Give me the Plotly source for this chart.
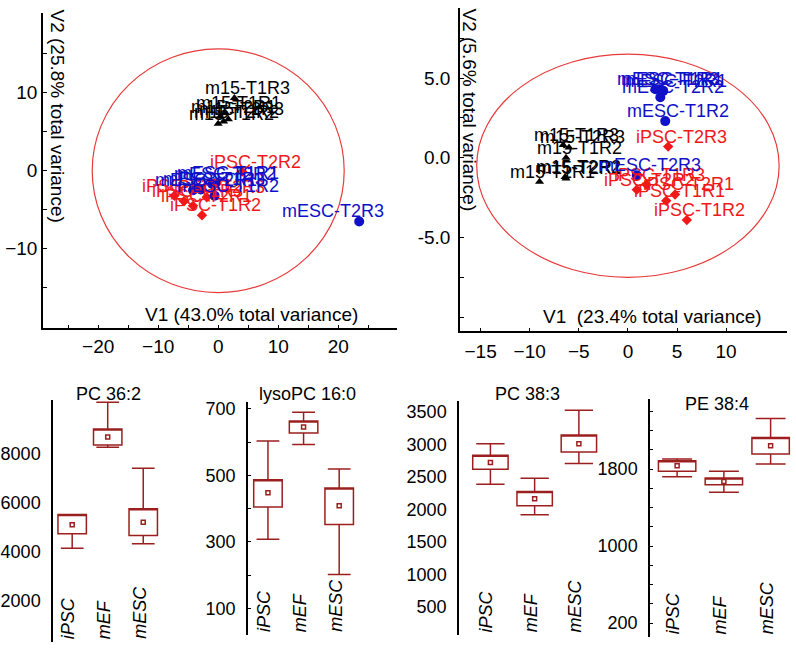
import plotly.graph_objects as go

W, H = 796, 649
FONT = "Liberation Sans, Arial, sans-serif"
RED = "#f01818"
BLUE = "#1010c8"
BLACK = "#000000"
BOXC = "#9b1f1f"

# ---------------- PCA 1 (left) ----------------
pca1_m15_names = ["m15-T1R3", "m15-T1R1", "m15-T2R1", "m15-T2R2", "m15-T1R2", "m15-T2R3"]
pca1_m15_x = [2.7, 1.2, 0.3, 0.9, 0.0, 1.7]
pca1_m15_y = [9.3, 7.4, 6.9, 6.3, 6.0, 6.6]

pca1_ipsc_names = ["iPSC-T1R1", "iPSC-T1R3", "iPSC-T2R1", "iPSC-T1R2", "iPSC-T2R3", "iPSC-T2R2"]
pca1_ipsc_x = [-7.3, -5.7, -4.2, -2.7, -1.9, 4.0]
pca1_ipsc_y = [-3.2, -3.9, -4.5, -5.7, -3.4, -0.1]

pca1_mesc_names = ["mESC-T2R1", "mESC-T1R3", "mESC-T2R2", "mESC-T1R1", "mESC-T1R2", "mESC-T2R3"]
pca1_mesc_x = [-4.2, -2.9, -1.0, -0.5, -0.6, 23.5]
pca1_mesc_y = [-2.5, -2.4, -1.7, -1.6, -3.2, -6.5]

pca1_xlabel = "V1 (43.0% total variance)"
pca1_ylabel = "V2 (25.8% total variance)"
pca1_xticks = [-20, -10, 0, 10, 20]
pca1_yticks = [-10, 0, 10]
pca1_ellipse = dict(cx=0.0, cy=0.0, rx=21.0, ry=15.6)

# ---------------- PCA 2 (right) ----------------
pca2_m15_names = ["m15-T1R3", "m15-T2R3", "m15-T1R2", "m15-T2R1", "m15-T1R1", "m15-T2R2"]
pca2_m15_x = [-6.6, -6.0, -6.3, -6.3, -9.0, -6.4]
pca2_m15_y = [0.8, 0.65, 0.0, -1.3, -1.5, -1.2]

pca2_ipsc_names = ["iPSC-T2R2", "iPSC-T1R3", "iPSC-T1R1", "iPSC-T2R1", "iPSC-T1R2", "iPSC-T2R3"]
pca2_ipsc_x = [0.9, 1.9, 3.9, 4.8, 6.0, 4.1]
pca2_ipsc_y = [-2.0, -1.7, -2.7, -2.3, -3.9, 0.7]

pca2_mesc_names = ["mESC-T1R3", "mESC-T2R1", "mESC-T1R1", "mESC-T2R2", "mESC-T1R2", "mESC-T2R3"]
pca2_mesc_x = [2.8, 3.6, 3.2, 3.3, 3.8, 0.9]
pca2_mesc_y = [4.3, 4.2, 4.3, 3.8, 2.3, -1.1]

pca2_xlabel = "V1  (23.4% total variance)"
pca2_ylabel = "V2 (5.6% total variance)"
pca2_xticks = [-15, -10, -5, 0, 5, 10]
pca2_yticks = [-5.0, 0.0, 5.0]
pca2_ellipse = dict(cx=0.0, cy=-0.5, rx=15.4, ry=7.0)

# ---------------- Box plots ----------------
groups = ["iPSC", "mEF", "mESC"]

box_titles = ["PC 36:2", "lysoPC 16:0", "PC 38:3", "PE 38:4"]
box_mean = [[5097, 8695, 5206], [448, 645, 409], [2723, 2166, 3014], [1835, 1672, 2042]]
box_q1 = [[4728, 8368, 4661], [405, 627, 352], [2621, 2058, 2887], [1776, 1638, 1956]]
box_q3 = [[5519, 9022, 5751], [487, 663, 462], [2835, 2278, 3147], [1886, 1707, 2128]]
box_low = [[4143, 8273, 4320], [308, 593, 202], [2391, 1920, 2708], [1720, 1558, 1852]]
box_high = [[5519, 10113, 7414], [603, 690, 519], [3014, 2483, 3531], [1904, 1776, 2325]]
box_yticks = [[2000, 4000, 6000, 8000], [100, 300, 500, 700],
              [500, 1000, 1500, 2000, 2500, 3000, 3500], [200, 1000, 1800]]
box_minor = [None, [200, 400, 600], None,
             [400, 600, 800, 1200, 1400, 1600, 2000, 2200, 2400]]

# ---------------- layout geometry (pixels) ----------------
def fx(p):
    return p / W

def fy(p):
    return 1 - p / H

fig = go.Figure()

scatter_panels = [
    dict(ax="", m15=(pca1_m15_names, pca1_m15_x, pca1_m15_y),
         ipsc=(pca1_ipsc_names, pca1_ipsc_x, pca1_ipsc_y),
         mesc=(pca1_mesc_names, pca1_mesc_x, pca1_mesc_y),
         ell=pca1_ellipse),
    dict(ax="2", m15=(pca2_m15_names, pca2_m15_x, pca2_m15_y),
         ipsc=(pca2_ipsc_names, pca2_ipsc_x, pca2_ipsc_y),
         mesc=(pca2_mesc_names, pca2_mesc_x, pca2_mesc_y),
         ell=pca2_ellipse),
]

annotations = []
shapes = []
label_shift = {("", "mESC-T2R3"): -26}

for p in scatter_panels:
    xa, ya = "x" + p["ax"], "y" + p["ax"]
    e = p["ell"]
    shapes.append(dict(type="circle", xref=xa, yref=ya,
                       x0=e["cx"] - e["rx"], x1=e["cx"] + e["rx"],
                       y0=e["cy"] - e["ry"], y1=e["cy"] + e["ry"],
                       line=dict(color="#e83a3a", width=1.2), layer="below"))
    for key, color, sym, size in [("m15", BLACK, "triangle-up", 8),
                                  ("ipsc", RED, "diamond", 8),
                                  ("mesc", BLUE, "circle", 10)]:
        names, xs, ys = p[key]
        fig.add_trace(go.Scatter(x=xs, y=ys, mode="markers", xaxis=xa, yaxis=ya,
                                 marker=dict(symbol=sym, size=size, color=color,
                                             line=dict(width=0)),
                                 hoverinfo="skip"))
        for n, xv, yv in zip(names, xs, ys):
            annotations.append(dict(x=xv, y=yv, xref=xa, yref=ya, text=n,
                                    showarrow=False, xanchor="center", yanchor="middle",
                                    xshift=label_shift.get((p["ax"], n), 13), yshift=10,
                                    font=dict(family=FONT, size=18, color=color)))

for i in range(4):
    n = str(i + 3)
    xa, ya = "x" + n, "y" + n
    fig.add_trace(go.Box(x=[0, 1, 2], q1=box_q1[i], median=box_q3[i], q3=box_q3[i],
                         lowerfence=box_low[i], upperfence=box_high[i],
                         xaxis=xa, yaxis=ya, width=0.8, whiskerwidth=0.8,
                         line=dict(color=BOXC, width=1.5),
                         fillcolor="rgba(0,0,0,0)", boxpoints=False, hoverinfo="skip"))
    fig.add_trace(go.Scatter(x=[0, 1, 2], y=box_mean[i], mode="markers",
                             xaxis=xa, yaxis=ya,
                             marker=dict(symbol="square-open", size=4, color=BOXC,
                                         line=dict(width=1.5, color=BOXC)),
                             hoverinfo="skip"))
    for j, g in enumerate(groups):
        annotations.append(dict(x=j, y=0, xref=xa, yref=ya + " domain", text=g,
                                showarrow=False, textangle=-90, xanchor="center",
                                yanchor="bottom", xshift=-4, yshift=1,
                                font=dict(family=FONT, size=18, color=BLACK, style="italic")))

dom = {
    "": dict(x=(43, 397), y=(10, 327), xr=(-29.2, 29.8), yr=(-20.2, 20.2)),
    "2": dict(x=(460, 787), y=(5, 330), xr=(-17.1, 16.2), yr=(-10.9, 9.4)),
    "3": dict(x=(53, 161), y=(399, 642), xr=(-0.54, 2.5), yr=(300, 10200)),
    "4": dict(x=(248, 357), y=(401, 635), xr=(-0.56, 2.5), yr=(20, 720)),
    "5": dict(x=(459, 601), y=(400, 635), xr=(-0.71, 2.5), yr=(65, 3670)),
    "6": dict(x=(650, 794), y=(398, 637), xr=(-0.58, 2.5), yr=(55, 2526)),
}

tickfont = dict(family=FONT, size=18, color=BLACK)
tickfont_sc = dict(family=FONT, size=19, color=BLACK)
layout = dict(width=W, height=H, margin=dict(l=0, r=0, t=0, b=0),
              plot_bgcolor="white", paper_bgcolor="white", showlegend=False,
              font=dict(family=FONT, color=BLACK))

for k, d in dom.items():
    xk, yk = "xaxis" + k, "yaxis" + k
    layout[xk] = dict(domain=[fx(d["x"][0]), fx(d["x"][1])], range=list(d["xr"]),
                      anchor="y" + k, showgrid=False, zeroline=False)
    layout[yk] = dict(domain=[fy(d["y"][1]), fy(d["y"][0])], range=list(d["yr"]),
                      anchor="x" + k, showgrid=False, zeroline=False,
                      showline=True, linecolor=BLACK, linewidth=1.5,
                      tickfont=tickfont)

layout["xaxis"].update(showline=True, linecolor=BLACK, linewidth=1.5, tickmode="array",
                       tickvals=pca1_xticks, ticks="inside", ticklen=4, tickcolor=BLACK,
                       tickfont=tickfont_sc, ticklabelstandoff=0,
                       minor=dict(tickvals=[-25, -15, -5, 5, 15, 25], ticks="inside",
                                  ticklen=4, tickcolor=BLACK))
layout["yaxis"].update(tickmode="array", tickvals=pca1_yticks, ticks="inside", ticklen=4,
                       tickcolor=BLACK, ticklabelstandoff=0, tickfont=tickfont_sc,
                       minor=dict(tickvals=[-15, -5, 5, 15], ticks="inside",
                                  ticklen=4, tickcolor=BLACK))
layout["xaxis2"].update(showline=True, linecolor=BLACK, linewidth=1.5, tickmode="array",
                        tickvals=pca2_xticks, ticks="inside", ticklen=4, tickcolor=BLACK,
                        tickfont=tickfont_sc, ticklabelstandoff=2)
layout["yaxis2"].update(tickmode="array", tickvals=pca2_yticks,
                        ticktext=["%.1f" % v for v in pca2_yticks],
                        ticks="inside", ticklen=4, tickcolor=BLACK, ticklabelstandoff=4,
                        tickfont=tickfont_sc,
                        minor=dict(tickvals=[-10, -7.5, -2.5, 2.5, 7.5], ticks="inside",
                                   ticklen=4, tickcolor=BLACK))

for i in range(4):
    k = str(i + 3)
    layout["xaxis" + k].update(showline=False, showticklabels=False, ticks="")
    ya = layout["yaxis" + k]
    ya.update(tickmode="array", tickvals=box_yticks[i], ticklabelstandoff=7)
    if box_minor[i] is not None:
        ya.update(ticks="inside", ticklen=3, tickcolor=BLACK,
                  minor=dict(tickvals=box_minor[i], ticks="inside", ticklen=3,
                             tickcolor=BLACK))
    else:
        ya.update(ticks="")

annotations += [
    dict(x=fx(251), y=fy(313), xref="paper", yref="paper", text=pca1_xlabel,
         showarrow=False, xanchor="center", yanchor="middle",
         font=dict(family=FONT, size=19, color=BLACK)),
    dict(x=fx(58), y=fy(4), xref="paper", yref="paper", text=pca1_ylabel,
         showarrow=False, textangle=90, xanchor="center", yanchor="top",
         font=dict(family=FONT, size=19, color=BLACK)),
    dict(x=fx(652), y=fy(315), xref="paper", yref="paper", text=pca2_xlabel,
         showarrow=False, xanchor="center", yanchor="middle",
         font=dict(family=FONT, size=19, color=BLACK)),
    dict(x=fx(470), y=fy(4), xref="paper", yref="paper", text=pca2_ylabel,
         showarrow=False, textangle=90, xanchor="center", yanchor="top",
         font=dict(family=FONT, size=19, color=BLACK)),
]

title_pos = [(108, 393), (307, 393), (527, 393), (717, 403)]
for t, (tx, ty) in zip(box_titles, title_pos):
    annotations.append(dict(x=fx(tx), y=fy(ty), xref="paper", yref="paper", text=t,
                            showarrow=False, xanchor="center", yanchor="middle",
                            font=dict(family=FONT, size=18, color=BLACK)))

layout["annotations"] = annotations
layout["shapes"] = shapes
fig.update_layout(**layout)
fig.write_html("out.html", config={"displayModeBar": False},
               post_script="document.body.style.margin='0';document.body.style.overflow='hidden';")
